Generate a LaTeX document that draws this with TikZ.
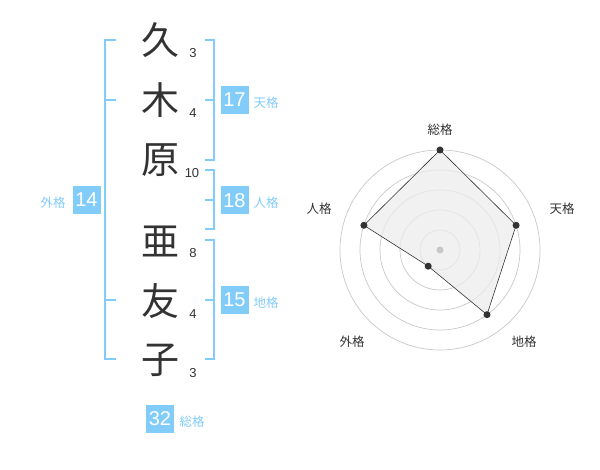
\documentclass[tikz,border=0pt]{standalone}
\usepackage{fontspec}
\setmainfont{Noto Sans CJK JP}
\newfontfamily\numfont{Liberation Sans}
\definecolor{skyb}{RGB}{130,204,250}
\definecolor{ink}{RGB}{51,51,51}
\definecolor{ringc}{RGB}{200,200,200}
\definecolor{areac}{RGB}{236,236,236}
\tikzset{
  kanji/.style={font=\fontsize{38}{38}\selectfont, text=ink, inner sep=0pt},
  stroke/.style={font=\numfont\fontsize{13}{13}\selectfont, text=ink, inner sep=0pt},
  brk/.style={draw=skyb, line width=2pt},
  valbox/.style={fill=skyb, text=white, minimum width=28pt, minimum height=28pt, inner sep=0pt, font=\numfont\fontsize{20}{20}\selectfont},
  kaku/.style={text=skyb, font=\fontsize{12.5}{12.5}\selectfont, inner sep=0pt},
  ring/.style={draw=ringc, line width=0.7pt},
  rlabel/.style={text=ink, font=\fontsize{12.5}{12.5}\selectfont, inner sep=0pt},
  dot/.style={circle, fill=ink, inner sep=0pt, minimum size=7pt}
}
\begin{document}
\begin{tikzpicture}[x=1pt,y=-1pt]
\useasboundingbox (0,0) rectangle (600,470);
% kanji
\node[kanji] (k1) at (160,40) {久};
\node[kanji] (k2) at (160,100) {木};
\node[kanji] (k3) at (160,160) {原};
\node[kanji] (k4) at (160,241) {亜};
\node[kanji] (k5) at (160,301) {友};
\node[kanji] (k6) at (160,360) {子};
% stroke counts
\node[stroke] (s1) at (193,53) {3};
\node[stroke] (s2) at (193,113) {4};
\node[stroke] (s3) at (192,173) {10};
\node[stroke] (s4) at (193,253) {8};
\node[stroke] (s5) at (193,314) {4};
\node[stroke] (s6) at (193,373) {3};
% left bracket (gaikaku)
\draw[brk] (116,40) -- (105,40) -- (105,359) -- (116,359);
\draw[brk] (105,100) -- (116,100);
\draw[brk] (105,300) -- (116,300);
\node[valbox] (b14) at (86.5,200) {14};
\node[kaku] (l14) at (53,202.5) {外格};
% right brackets
\draw[brk] (205,40) -- (214,40) -- (214,160) -- (205,160);
\draw[brk] (214,100) -- (205,100);
\node[valbox] (b17) at (234.5,100) {17};
\node[kaku] (l17) at (266,102.5) {天格};
\draw[brk] (205,170) -- (214,170) -- (214,229) -- (205,229);
\draw[brk] (214,200) -- (205,200);
\node[valbox] (b18) at (234.5,200.5) {18};
\node[kaku] (l18) at (266,203) {人格};
\draw[brk] (205,240) -- (214,240) -- (214,359) -- (205,359);
\draw[brk] (214,300) -- (205,300);
\node[valbox] (b15) at (234.5,300) {15};
\node[kaku] (l15) at (266,302.5) {地格};
% total
\node[valbox] (b32) at (160,419) {32};
\node[kaku] (l32) at (192,421.5) {総格};
% radar
\coordinate (c) at (440,250);
\foreach \r in {20,40,60,80,100} \draw[ring] (c) circle (\r);
\path (c) ++(0,-100) coordinate (p1);
\path (c) ++(76.1,-24.7) coordinate (p2);
\path (c) ++(47.0,64.7) coordinate (p3);
\path (c) ++(-11.8,16.2) coordinate (p4);
\path (c) ++(-76.1,-24.7) coordinate (p5);
\draw[fill=areac, fill opacity=0.75, draw=ink, line width=0.6pt] (p1) -- (p2) -- (p3) -- (p4) -- (p5) -- cycle;
\fill[ringc] (c) circle (3.5);
\foreach \p in {p1,p2,p3,p4,p5} \node[dot] at (\p) {};
\node[rlabel] (r1) at (440,130) {総格};
\node[rlabel] (r2) at (562,209) {天格};
\node[rlabel] (r3) at (524,342) {地格};
\node[rlabel] (r4) at (352,342) {外格};
\node[rlabel] (r5) at (319,209) {人格};
\end{tikzpicture}
\end{document}
